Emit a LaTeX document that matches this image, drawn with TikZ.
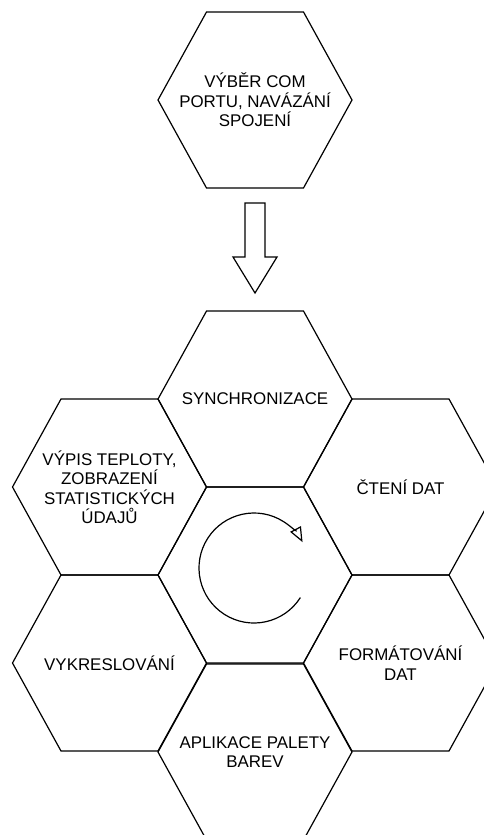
\documentclass[tikz,border=0pt]{standalone}
\usepackage{fontspec}
\setmainfont{Liberation Sans}
\usetikzlibrary{arrows.meta,calc}
\tikzset{
  hexline/.style={draw=black, line width=1.2pt, line join=miter},
  label/.style={align=center, inner sep=0pt, font=\fontsize{16.9}{19.5}\selectfont},
}
\newcommand{\myhex}[4]{%
  \draw[hexline] (#2-97,#3) -- (#2-48.5,#3-88) -- (#2+48.5,#3-88) -- (#2+97,#3) -- (#2+48.5,#3+88) -- (#2-48.5,#3+88) -- cycle;
  \node[label] (#1) at (#2,#3) {#4};
}
\begin{document}
\begin{tikzpicture}[x=1pt,y=-1pt]
\path[use as bounding box] (0,0) rectangle (484,835);
\clip (0,0) rectangle (484,835);
\fill[white] (0,0) rectangle (484,835);
% top hexagon
\myhex{start}{255}{100}{VÝBĚR COM\\PORTU, NAVÁZÁNÍ\\SPOJENÍ}
% block arrow
\coordinate (tip) at (255,293);
\draw[hexline] (245,203) -- (265,203) -- (265,257) -- (277,257) -- (tip) -- (233,257) -- (245,257) -- cycle;
% cluster
\myhex{sync}{255}{399}{SYNCHRONIZACE}
\myhex{vypis}{109.5}{487}{VÝPIS TEPLOTY,\\ZOBRAZENÍ\\STATISTICKÝCH\\ÚDAJŮ}
\myhex{cteni}{400.5}{487}{ČTENÍ DAT}
\myhex{mid}{255}{575}{}
\myhex{vykres}{109.5}{663}{VYKRESLOVÁNÍ}
\myhex{format}{400.5}{663}{FORMÁTOVÁNÍ\\DAT}
\myhex{aplik}{255}{752}{APLIKACE PALETY\\BAREV}
% cycle arrow
\coordinate (cc) at (254,568);
\draw[line width=1.2pt, -{Triangle[open,length=15pt,width=12pt]}]
  ($(cc)+(32.5:55)$) arc[start angle=32.5, end angle=332, radius=55];
\end{tikzpicture}
\end{document}
